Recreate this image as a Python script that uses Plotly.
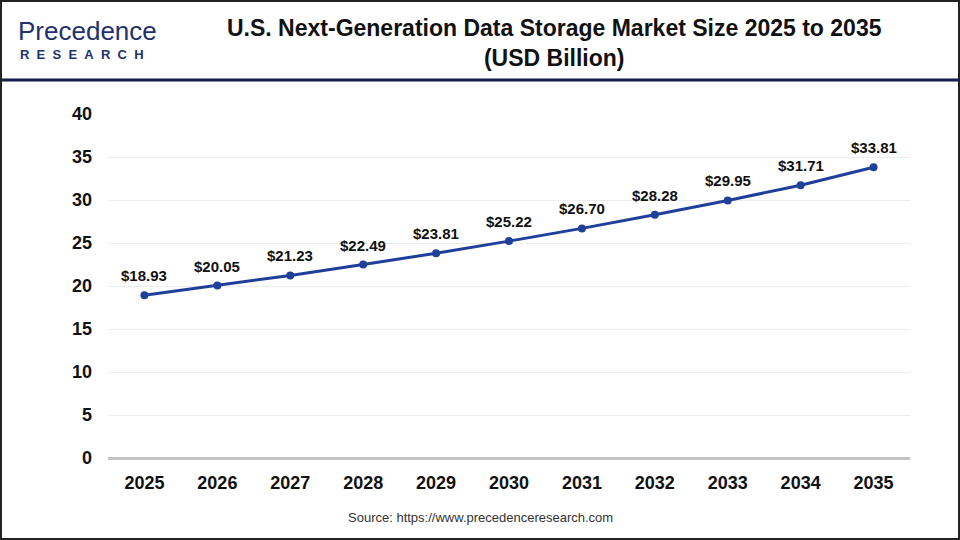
import plotly.graph_objects as go

years = ["2025", "2026", "2027", "2028", "2029", "2030", "2031", "2032", "2033", "2034", "2035"]
values = [18.93, 20.05, 21.23, 22.49, 23.81, 25.22, 26.70, 28.28, 29.95, 31.71, 33.81]
labels = ["$%.2f" % v for v in values]
y_ticks = [0, 5, 10, 15, 20, 25, 30, 35, 40]

line_color = "#1f3f9a"
FONT = "Liberation Sans, Arial"

fig = go.Figure()
fig.add_trace(go.Scatter(
    x=years, y=values, mode="lines+markers",
    line=dict(color=line_color, width=3),
    marker=dict(color=line_color, size=8),
    cliponaxis=False, hoverinfo="skip",
))

for i, (v, lab) in enumerate(zip(values, labels)):
    fig.add_annotation(
        x=i, y=v, xref="x", yref="y", text="<b>%s</b>" % lab, showarrow=False,
        yanchor="bottom", yshift=9,
        font=dict(family=FONT, size=15, color="#111111"),
    )

fig.update_layout(
    width=960, height=540,
    margin=dict(l=108, r=50, t=114, b=82),
    paper_bgcolor="white", plot_bgcolor="white",
    showlegend=False,
    font=dict(family=FONT, color="#111111"),
    xaxis=dict(
        type="category", range=[-0.5, 10.5],
        showgrid=False, showline=False, zeroline=False,
        ticks="", tickfont=dict(size=18, family=FONT, weight="bold"),
        ticklabelstandoff=12,
    ),
    yaxis=dict(
        range=[0, 40], tickvals=y_ticks,
        showgrid=True, gridcolor="#ececec", gridwidth=1,
        zeroline=True, zerolinecolor="#c4c4c4", zerolinewidth=2.5,
        showline=False, ticks="",
        tickfont=dict(size=18, family=FONT, weight="bold"),
        ticklabelstandoff=15,
    ),
)

W, H = 802, 344
def px(x):
    return (x - 108) / W
def py(y):
    return (458 - y) / H

# frame and header separator
fig.add_shape(type="rect", xref="paper", yref="paper", x0=px(1), x1=px(959),
              y0=py(539), y1=py(1), line=dict(color="#222222", width=2), fillcolor="rgba(0,0,0,0)")
fig.add_shape(type="line", xref="paper", yref="paper", x0=px(1), x1=px(959),
              y0=py(80), y1=py(80), line=dict(color="#121a4a", width=3))

# title
fig.add_annotation(
    text="<b>U.S. Next-Generation Data Storage Market Size 2025 to 2035<br>(USD Billion)</b>",
    xref="paper", yref="paper", x=px(554), y=py(43),
    xanchor="center", yanchor="middle", showarrow=False,
    font=dict(family=FONT, size=23, color="#111111"),
    align="center",
)

# logo
fig.add_annotation(
    text="Precedence", xref="paper", yref="paper", x=px(17), y=py(31),
    xanchor="left", yanchor="middle", showarrow=False, borderpad=0,
    font=dict(family=FONT, size=26, color="#23306e"),
)
sp = "&nbsp;&nbsp;"
fig.add_annotation(
    text=sp.join("RESEARCH"), xref="paper", yref="paper", x=px(19), y=py(55),
    xanchor="left", yanchor="middle", showarrow=False, borderpad=0,
    font=dict(family=FONT, size=13, color="#23306e", weight="bold"),
)

# source
fig.add_annotation(
    text="Source: https://www.precedenceresearch.com",
    xref="paper", yref="paper", x=px(480), y=py(517),
    xanchor="center", yanchor="middle", showarrow=False,
    font=dict(family=FONT, size=13, color="#333333"),
)

fig.write_html("out.html", config={"displayModeBar": False},
               post_script="document.body.style.margin='0';")
